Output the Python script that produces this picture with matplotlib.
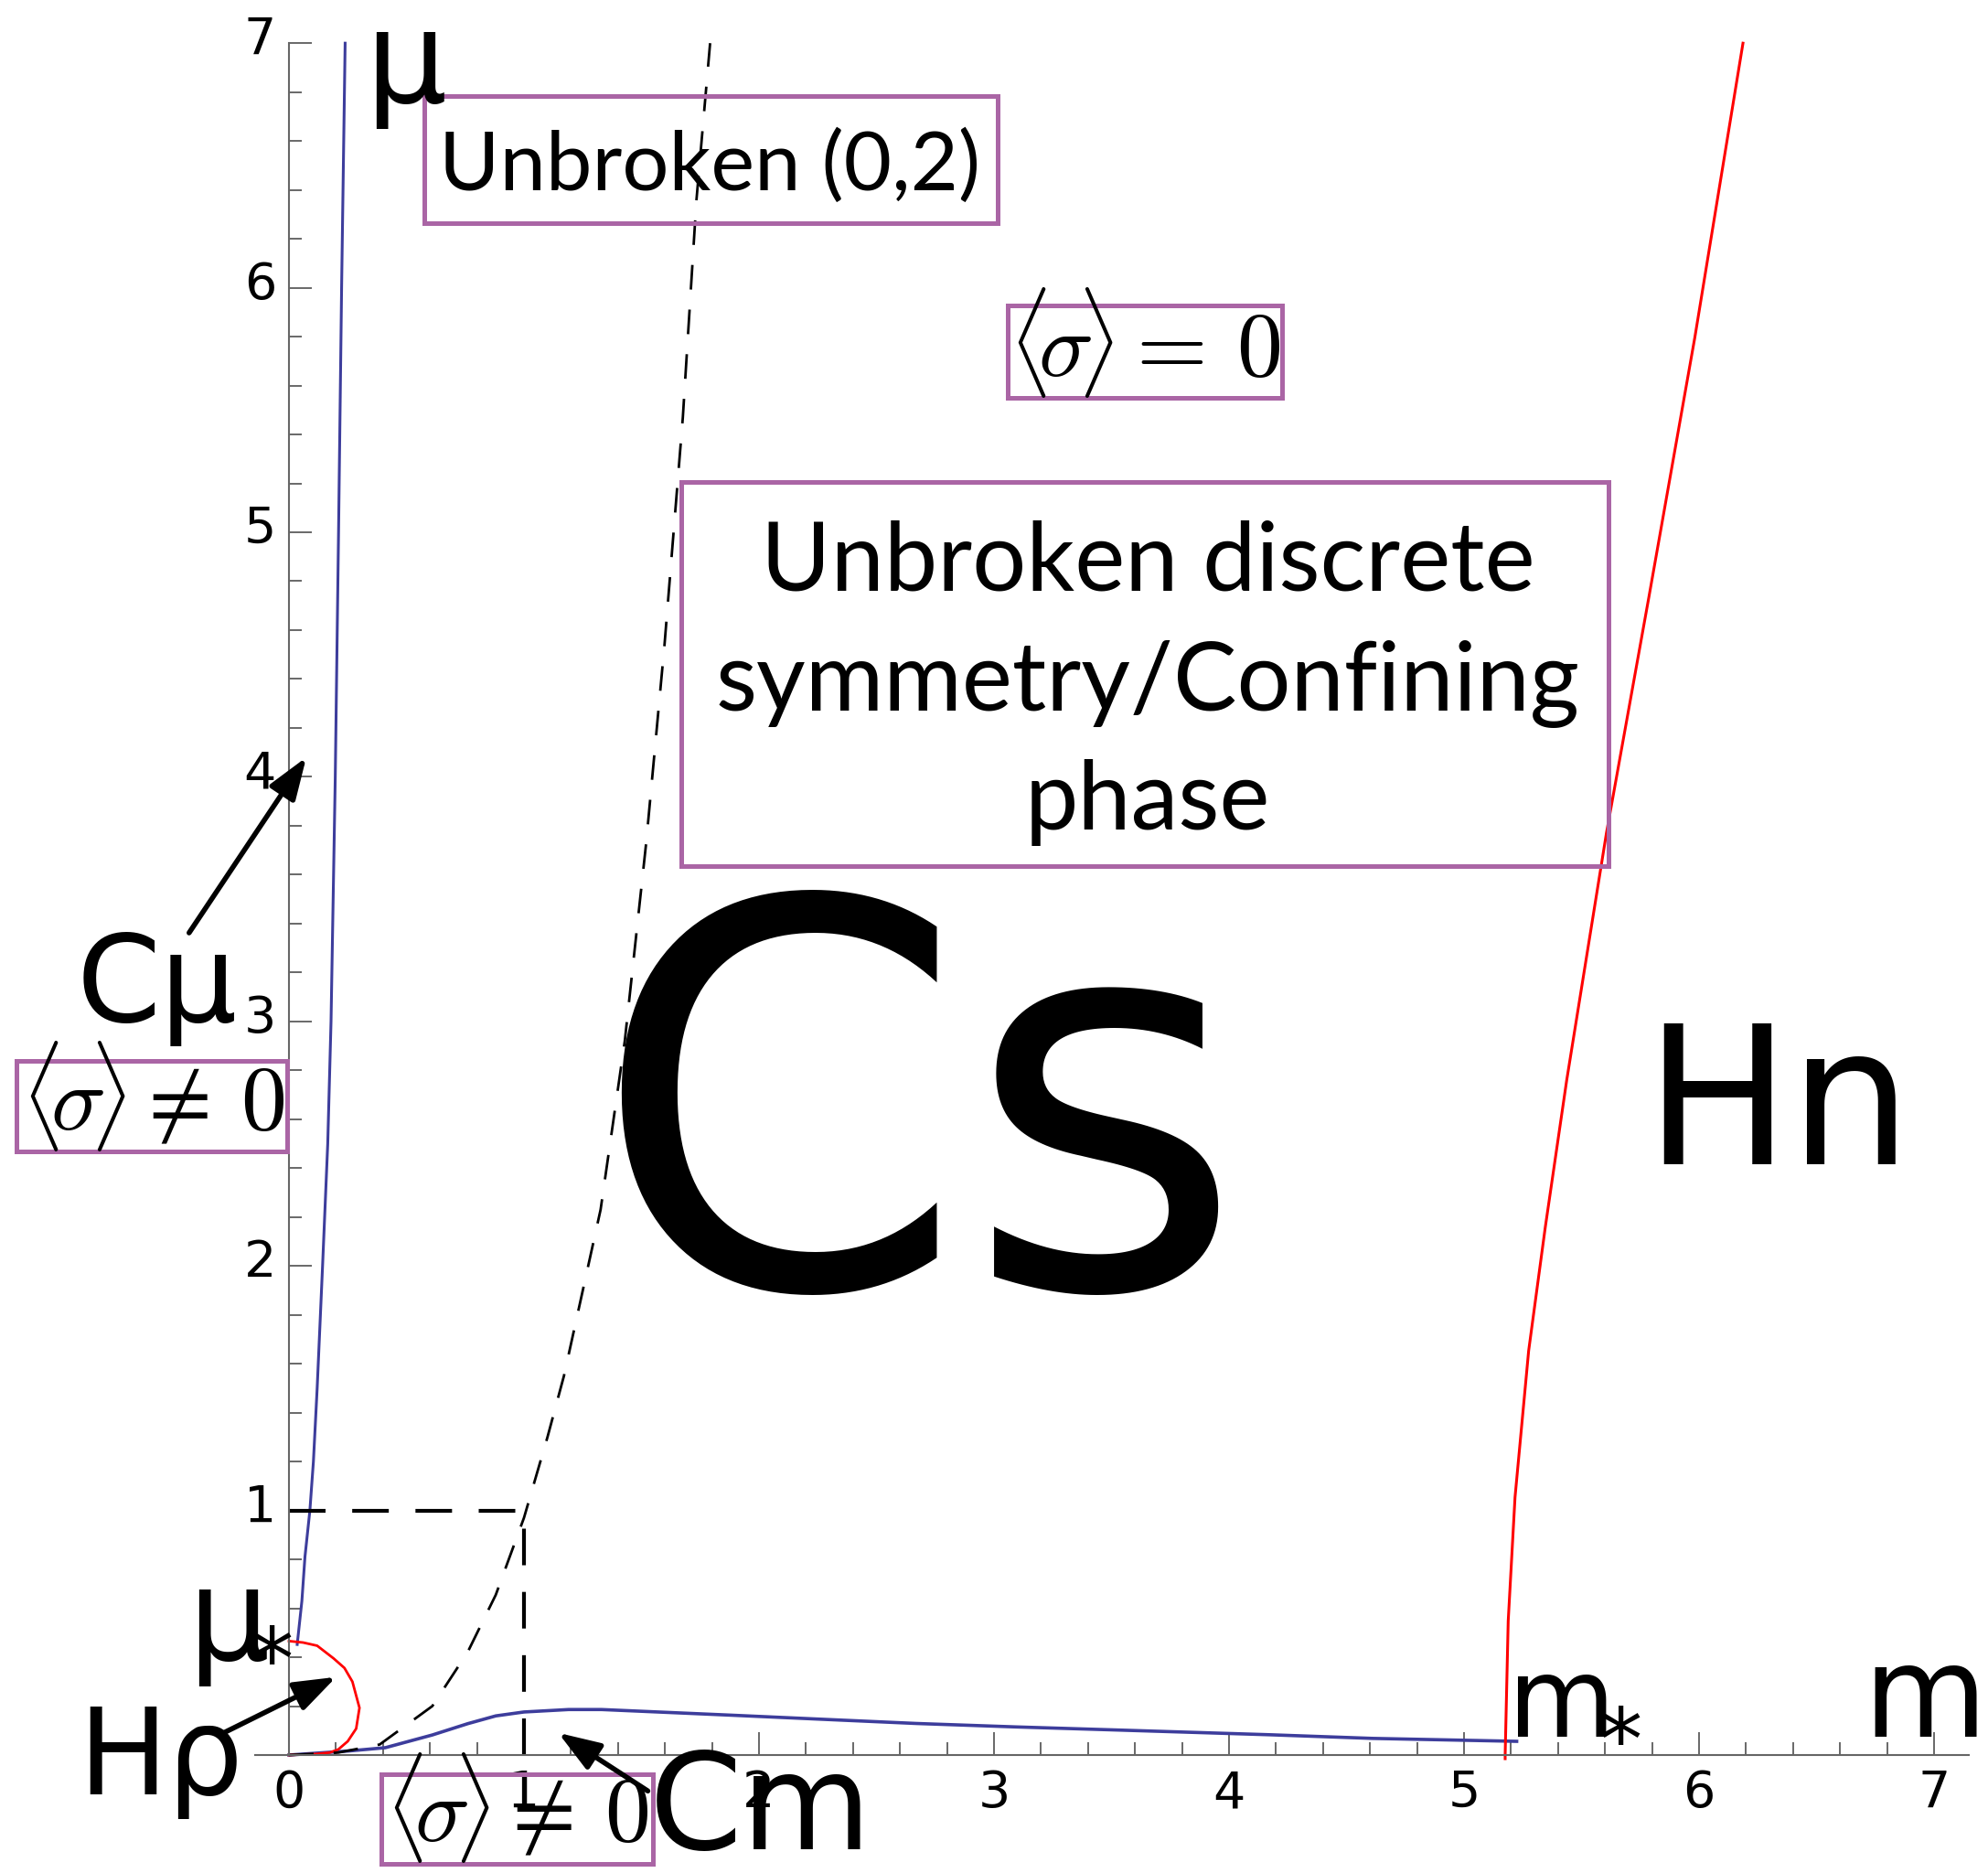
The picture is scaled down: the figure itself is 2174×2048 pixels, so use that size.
import matplotlib.pyplot as plt
from matplotlib.patches import Rectangle
from matplotlib.ticker import FixedLocator
from matplotlib.transforms import ScaledTranslation

plt.rcParams['font.family'] = 'DejaVu Sans'
plt.rcParams['mathtext.fontset'] = 'cm'

BLUE = '#3d3d9c'
RED = '#ff0000'
PURPLE = '#aa65a5'

# left confinement boundary (steep blue line)
cmu_m = [0.035, 0.055, 0.068, 0.089, 0.104, 0.120, 0.143, 0.165, 0.179, 0.197, 0.211, 0.224, 0.239]
cmu_mu = [0.452, 0.63, 0.81, 1.0, 1.2, 1.5, 2.0, 2.5, 3.0, 4.0, 5.0, 6.0, 7.0]

# lower confinement boundary (flat blue line)
cm_m = [0.0, 0.26, 0.41, 0.61, 0.76, 0.88, 1.0, 1.19, 1.33, 1.88, 2.25, 2.67, 3.09, 3.5, 4.17, 4.61, 5.224]
cm_mu = [0.0, 0.017, 0.03, 0.082, 0.128, 0.16, 0.176, 0.186, 0.186, 0.163, 0.147, 0.129, 0.115, 0.103, 0.083, 0.068, 0.056]

# small Higgs region near the origin
hp_m = [0.0, 0.06, 0.12, 0.19, 0.236, 0.27, 0.30, 0.286, 0.25, 0.21, 0.174, 0.11, 0.0]
hp_mu = [0.466, 0.46, 0.447, 0.395, 0.356, 0.30, 0.193, 0.108, 0.056, 0.023, 0.01, 0.004, 0.0]

# Higgs boundary at large m
hn_m = [5.175, 5.175, 5.188, 5.217, 5.275, 5.346, 5.437, 5.606, 5.787, 5.982, 6.187]
hn_mu = [-0.015, 0.0, 0.548, 1.054, 1.653, 2.16, 2.76, 3.77, 4.737, 5.796, 7.0]

# dashed crossover curve
dash_m = [0.0, 0.21, 0.386, 0.61, 0.76, 0.88, 1.0, 1.10, 1.17, 1.326, 1.429, 1.52, 1.598, 1.676, 1.734, 1.792]
dash_mu = [0.0, 0.01, 0.043, 0.2, 0.42, 0.655, 0.97, 1.3, 1.55, 2.23, 2.92, 3.73, 4.54, 5.47, 6.36, 7.0]

x_ticks = [0, 1, 2, 3, 4, 5, 6, 7]
y_ticks = [1, 2, 3, 4, 5, 6, 7]
minor_ticks = [round(i * 0.2, 1) for i in range(1, 35) if i % 5 != 0]

fig = plt.figure(figsize=(21.74, 20.48), dpi=100)
ax = fig.add_axes([0, 0, 1, 1])
ax.set_xlim(-316 / 257, (2174 - 316) / 257)
ax.set_ylim(-(2048 - 1919) / 267.4, 1919 / 267.4)

# axes crossing at the origin
for side in ['top', 'right']:
    ax.spines[side].set_visible(False)
ax.spines['left'].set_position(('data', 0))
ax.spines['bottom'].set_position(('data', 0))
ax.spines['left'].set_bounds(0, 7)
ax.spines['bottom'].set_bounds(-0.144, 7.146)
for side in ['left', 'bottom']:
    ax.spines[side].set_color('0.4')
    ax.spines[side].set_linewidth(1.5)

ax.xaxis.set_major_locator(FixedLocator(x_ticks))
ax.yaxis.set_major_locator(FixedLocator(y_ticks))
ax.xaxis.set_minor_locator(FixedLocator(minor_ticks))
ax.yaxis.set_minor_locator(FixedLocator(minor_ticks))
ax.set_xticklabels([str(t) for t in x_ticks])
ax.set_yticklabels([str(t) for t in y_ticks])
ax.tick_params(which='major', direction='in', length=18, width=1.1, color='0.25', labelsize=40)
ax.tick_params(which='minor', direction='in', length=10, width=1.1, color='0.25')
ax.tick_params(axis='x', pad=11)
ax.tick_params(axis='y', pad=10)

# lift the mu labels a little above their ticks
lift = ScaledTranslation(0, 0.09, fig.dpi_scale_trans)
for tick in ax.yaxis.get_major_ticks():
    tick.label1.set_transform(tick.label1.get_transform() + lift)

# phase boundaries
ax.plot(cmu_m, cmu_mu, color=BLUE, lw=2.2)
ax.plot(cm_m, cm_mu, color=BLUE, lw=2.6)
ax.plot(hp_m, hp_mu, color=RED, lw=2.0)
ax.plot(hn_m, hn_mu, color=RED, lw=2.2)
ax.plot(dash_m, dash_mu, color='k', lw=2.0, dashes=(9.7, 7.9))
ax.plot([0, 1], [1, 1], color='k', lw=3.0, dashes=(9.6, 7.0))
ax.plot([1, 1], [0, 1], color='k', lw=3.0, dashes=(9.6, 7.0))

# boxed region labels
def box(x0, x1, y0, y1):
    ax.add_patch(Rectangle((x0, y0), x1 - x0, y1 - y0, fill=False,
                           edgecolor=PURPLE, lw=3.6, clip_on=False, zorder=3))

sigma_zero = r'$\langle\!\sigma\!\rangle = \,0$'
sigma_nonzero = r'$\langle\!\sigma\!\rangle \neq \,0$'

box(0.576, 3.016, 6.264, 6.784)
ax.text(1.79, 6.40, 'Unbroken (0,2)', family='Lato', fontsize=65, ha='center', va='baseline')

box(3.058, 4.226, 5.550, 5.927)
ax.text(3.641, 5.637, sigma_zero, fontsize=72, ha='center', va='baseline')

box(1.669, 5.615, 3.635, 5.206)
ax.text(3.654, 4.761, 'Unbroken discrete', family='Lato', fontsize=75, ha='center', va='baseline')
ax.text(3.654, 4.271, 'symmetry/Confining', family='Lato', fontsize=75, ha='center', va='baseline')
ax.text(3.654, 3.785, 'phase', family='Lato', fontsize=75, ha='center', va='baseline')

box(-1.160, -0.008, 2.468, 2.838)
ax.text(-0.58, 2.554, sigma_nonzero, fontsize=72, ha='center', va='baseline')

box(0.393, 1.549, -0.445, -0.0785)
ax.text(0.969, -0.355, sigma_nonzero, fontsize=72, ha='center', va='baseline')

# phase names and axis names
ax.text(2.675, 1.91, 'Cs', fontsize=422, ha='center', va='baseline')
ax.text(6.339, 2.417, 'Hn', fontsize=152, ha='center', va='baseline')
ax.text(-0.561, 3.0, 'Cμ', fontsize=95, ha='center', va='baseline')
ax.text(-0.545, -0.160, 'Hρ', fontsize=94, ha='center', va='baseline')
ax.text(2.008, -0.385, 'Cm', fontsize=105, ha='center', va='baseline')
ax.text(0.496, 6.759, 'μ', fontsize=101, ha='center', va='baseline')
ax.text(6.96, 0.074, 'm', fontsize=100, ha='center', va='baseline')
ax.text(5.416, 0.074, 'm', fontsize=87, ha='center', va='baseline')
ax.text(5.665, -0.058, '*', fontsize=68, ha='center', va='baseline')
ax.text(-0.259, 0.388, 'μ', fontsize=101, ha='center', va='baseline')
ax.text(-0.075, 0.270, '*', fontsize=68, ha='center', va='baseline')

# arrows pointing at the boundaries
arrow = dict(arrowstyle='-|>,head_length=1.4,head_width=0.5', lw=4, color='k',
             shrinkA=0, shrinkB=0, mutation_scale=20)
ax.annotate('', xy=(0.074, 4.080), xytext=(-0.425, 3.362), arrowprops=arrow)
ax.annotate('', xy=(0.201, 0.319), xytext=(-0.297, 0.0815), arrowprops=arrow)
ax.annotate('', xy=(1.146, 0.0905), xytext=(1.527, -0.147), arrowprops=arrow)

fig.savefig('out.png', dpi=100, facecolor='white')
